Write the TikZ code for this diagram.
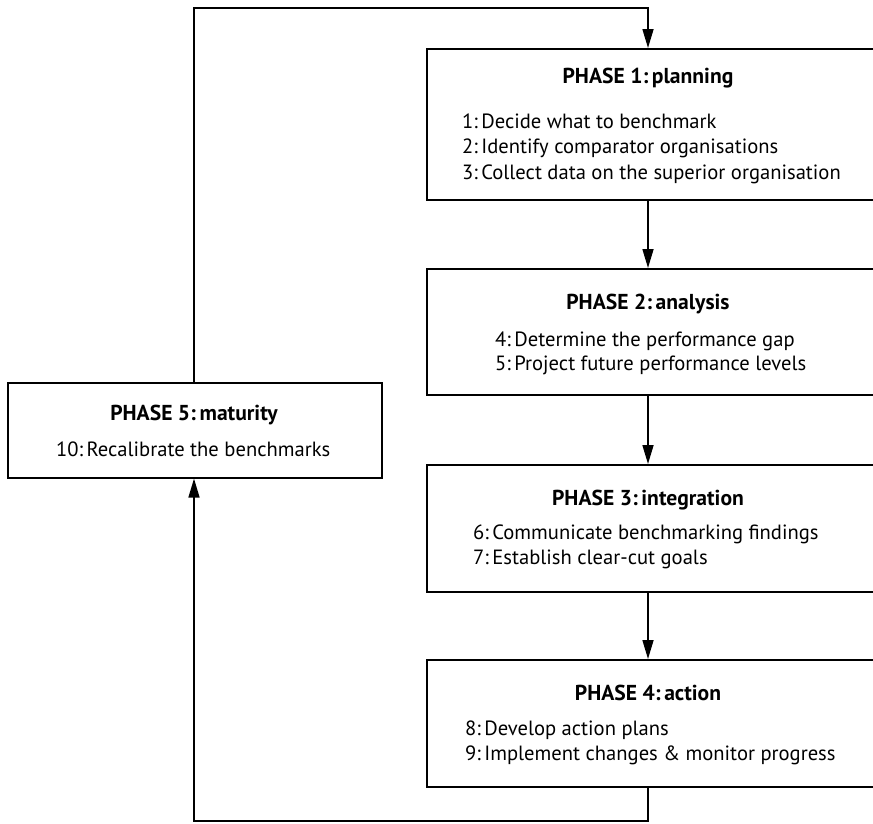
\documentclass[tikz,border=0pt]{standalone}
\usepackage{fontspec}
\setmainfont{PT Sans}
\usetikzlibrary{arrows.meta}
\begin{document}
\begin{tikzpicture}[x=1pt,y=-1pt,
  phasebox/.style={draw, line width=1.6pt, rectangle, inner sep=0pt, anchor=north west},
  phasetitle/.style={inner sep=0pt, anchor=base, font=\fontsize{21.6}{26}\selectfont\bfseries},
  phaseitem/.style={inner sep=0pt, anchor=base west, font=\fontsize{20.6}{25}\selectfont},
  link/.style={line width=1.6pt},
  flow/.style={link, -{Triangle[length=19pt,width=11pt]}}]
\useasboundingbox (0,0) rectangle (873,823);
\clip (0,0) rectangle (873,823);

% the five phase boxes (the right-hand column runs past the page edge)
\node[phasebox, minimum width=470pt, minimum height=151pt] (b1) at (426,48) {};
\node[phasebox, minimum width=470pt, minimum height=126pt] (b2) at (426,268) {};
\node[phasebox, minimum width=470pt, minimum height=127pt] (b3) at (426,464) {};
\node[phasebox, minimum width=470pt, minimum height=127pt] (b4) at (426,659) {};
\node[phasebox, minimum width=374pt, minimum height=95pt] (b5) at (7,382) {};

% x position of the main column and of the return path
\coordinate (col) at (648,0);
\coordinate (ret) at (194,0);
\coordinate (topturn) at (194,8);
\coordinate (botturn) at (194,821);

% texts
\node[phasetitle] (t1) at (648,83) {PHASE 1:\,planning};
\node[phaseitem] (i1) at (462,128) {1:\,Decide what to benchmark};
\node[phaseitem] (i2) at (462,153) {2:\,Identify comparator organisations};
\node[phaseitem] (i3) at (462,179) {3:\,Collect data on the superior organisation};

\node[phasetitle] (t2) at (648,309) {PHASE 2:\,analysis};
\node[phaseitem] (i4) at (495,346) {4:\,Determine the performance gap};
\node[phaseitem] (i5) at (495,370) {5:\,Project future performance levels};

\node[phasetitle] (t3) at (648,505) {PHASE 3:\,integration};
\node[phaseitem] (i6) at (473,539) {6:\,Communicate benchmarking findings};
\node[phaseitem] (i7) at (473,564) {7:\,Establish clear-cut goals};

\node[phasetitle] (t4) at (648,700) {PHASE 4:\,action};
\node[phaseitem] (i8) at (465,735) {8:\,Develop action plans};
\node[phaseitem] (i9) at (465,760) {9:\,Implement changes \& monitor progress};

\node[phasetitle] (t5) at (194,420) {PHASE 5:\,maturity};
\node[phaseitem] (i10) at (56,456) {10:\,Recalibrate the benchmarks};

% connectors
\draw[flow] (b1.south -| col) -- (b2.north -| col);
\draw[flow] (b2.south -| col) -- (b3.north -| col);
\draw[flow] (b3.south -| col) -- (b4.north -| col);
\draw[flow] (b4.south -| col) |- (botturn) -- (b5.south -| ret);
\draw[flow] (b5.north -| ret) -- (topturn) -| (b1.north -| col);
\end{tikzpicture}
\end{document}
